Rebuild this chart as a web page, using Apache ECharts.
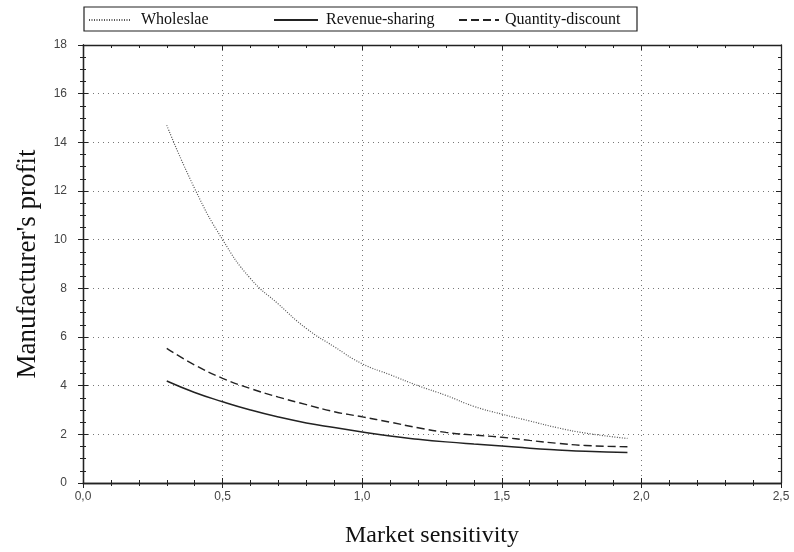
<!DOCTYPE html>
<html>
<head>
<meta charset="utf-8">
<script src="https://cdn.jsdelivr.net/npm/echarts@6/dist/echarts.min.js"></script>
<style>html,body{margin:0;padding:0;background:#fff;}#c{width:794px;height:552px;}</style>
</head>
<body>
<div id="c"></div>
<script>
const xValues = [0.3,0.4,0.5,0.6,0.7,0.8,0.9,1.0,1.1,1.2,1.3,1.4,1.5,1.6,1.7,1.8,1.95];
const wholesale = [14.7,12.1,10.0,8.4,7.35,6.35,5.6,4.9,4.45,4.0,3.6,3.15,2.83,2.55,2.27,2.05,1.83];
const quantityDiscount = [5.53,4.85,4.3,3.88,3.53,3.22,2.93,2.72,2.5,2.27,2.08,1.97,1.88,1.75,1.63,1.54,1.49];
const revenueSharing = [4.19,3.72,3.34,3.0,2.71,2.47,2.28,2.1,1.93,1.8,1.69,1.6,1.52,1.43,1.36,1.3,1.25];
const seriesNames = ['Wholeslae','Revenue-sharing','Quantity-discount'];
const xTitle = 'Market sensitivity';
const yTitle = "Manufacturer's profit";

const pairs = arr => xValues.map((x,i)=>[x,arr[i]]);
const chart = echarts.init(document.getElementById('c'));
const axisLine = {show:true, onZero:false, lineStyle:{color:'#222', width:1.3}};
const fmt = v => v.toFixed(1).replace('.', ',');
const baseX = {type:'value', min:0, max:2.5, interval:0.5, gridIndex:0};
const baseY = {type:'value', min:0, max:18, interval:2, gridIndex:0};
const labelStyle = {color:'#444', fontFamily:'Liberation Sans, Arial', fontSize:12};
const legendText = pad => ({fontFamily:'Liberation Serif, Times New Roman', fontSize:16, color:'#111', padding:[0,0,0,pad]});
const tick = inside => ({show:true, inside:inside, length:5, lineStyle:{color:'#222'}});
const minor = n => ({show:true, splitNumber:n, length:3, lineStyle:{color:'#222'}});

chart.setOption({
  animation:false,
  backgroundColor:'#fff',
  grid:{left:83, right:13, top:45, bottom:69, containLabel:false, outerBoundsMode:'none'},
  xAxis:[
    Object.assign({}, baseX, {position:'bottom', axisLine, axisTick:tick(false), minorTick:minor(5),
      axisLabel:Object.assign({formatter:fmt, margin:8}, labelStyle),
      splitLine:{show:true, lineStyle:{color:'#777', type:[1,4], width:1}},
      name:xTitle, nameLocation:'middle', nameGap:41,
      nameTextStyle:{fontFamily:'Liberation Serif, Times New Roman', fontSize:24, color:'#111'}}),
    Object.assign({}, baseX, {position:'bottom', axisLine, axisTick:tick(true), minorTick:minor(5),
      axisLabel:{show:false}, splitLine:{show:false}}),
    Object.assign({}, baseX, {position:'top', axisLine, axisTick:tick(true), minorTick:minor(5),
      axisLabel:{show:false}, splitLine:{show:false}})
  ],
  yAxis:[
    Object.assign({}, baseY, {position:'left', axisLine, axisTick:tick(false), minorTick:minor(4),
      axisLabel:Object.assign({margin:16}, labelStyle),
      splitLine:{show:true, lineStyle:{color:'#777', type:[1,4], width:1}},
      name:yTitle, nameLocation:'middle', nameGap:42,
      nameTextStyle:{fontFamily:'Liberation Serif, Times New Roman', fontSize:27, color:'#111'}}),
    Object.assign({}, baseY, {position:'left', axisLine, axisTick:tick(true), minorTick:minor(4),
      axisLabel:{show:false}, splitLine:{show:false}}),
    Object.assign({}, baseY, {position:'right', axisLine, axisTick:tick(true), minorTick:minor(4),
      axisLabel:{show:false}, splitLine:{show:false}})
  ],
  legend:[
    {data:[seriesNames[0]], left:88, top:12, itemWidth:41, itemHeight:16, itemGap:0, textStyle:legendText(6), padding:0, itemStyle:{opacity:0}},
    {data:[seriesNames[1]], left:273, top:12, itemWidth:44, itemHeight:16, itemGap:0, textStyle:legendText(3), padding:0, itemStyle:{opacity:0}},
    {data:[seriesNames[2]], left:458, top:12, itemWidth:40, itemHeight:16, itemGap:0, textStyle:legendText(1), padding:0, itemStyle:{opacity:0}}
  ],
  graphic:[{type:'rect', shape:{x:84, y:7, width:553, height:24}, style:{fill:'none', stroke:'#222', lineWidth:1.2}, silent:true}],
  series:[
    {name:seriesNames[0], type:'line', smooth:0.5, symbol:'none', data:pairs(wholesale),
      lineStyle:{color:'#555', width:1.2, type:[1,1.5]}, itemStyle:{color:'#555'}},
    {name:seriesNames[1], type:'line', smooth:0.5, symbol:'none', data:pairs(revenueSharing),
      lineStyle:{color:'#222', width:1.5, type:'solid'}, itemStyle:{color:'#222'}},
    {name:seriesNames[2], type:'line', smooth:0.5, symbol:'none', data:pairs(quantityDiscount),
      lineStyle:{color:'#222', width:1.4, type:[8,4]}, itemStyle:{color:'#222'}}
  ]
});
</script>
</body>
</html>
